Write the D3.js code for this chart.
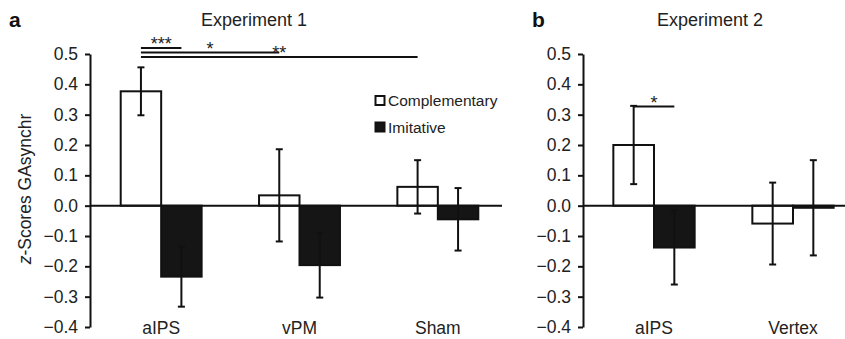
<!DOCTYPE html>
<html>
<head>
<meta charset="utf-8">
<script src="https://cdn.jsdelivr.net/npm/d3@7"></script>
<style>
  body { margin: 0; background: #fff; }
  svg { font-family: "Liberation Sans", Arial, sans-serif; }
</style>
</head>
<body>
<div id="chart"></div>
<script>
// data
const groups = ["comp", "imit"];
const exp1Sites = ["aIPS", "vPM", "Sham"];
const exp1Comp = [0.377, 0.034, 0.062];
const exp1CompErr = [0.079, 0.152, 0.088];
const exp1Imit = [-0.234, -0.196, -0.045];
const exp1ImitErr = [0.099, 0.107, 0.103];

const exp2Sites = ["aIPS", "Vertex"];
const exp2Comp = [0.2, -0.059];
const exp2CompErr = [0.129, 0.135];
const exp2Imit = [-0.138, -0.007];
const exp2ImitErr = [0.122, 0.157];

const yTicks = [0.5, 0.4, 0.3, 0.2, 0.1, 0.0, -0.1, -0.2, -0.3, -0.4];
const legendLabels = ["Complementary", "Imitative"];

// significance brackets: [fromSite, fromGroup, toSite, toGroup, label]
const exp1Sig = [
  ["aIPS", "comp", "aIPS", "imit", "***"],
  ["aIPS", "comp", "vPM", "comp", "*"],
  ["aIPS", "comp", "Sham", "comp", "**"]
];
const exp2Sig = [
  ["aIPS", "comp", "aIPS", "imit", "*"]
];

const width = 845, height = 339;
const svg = d3.select("#chart").append("svg")
  .attr("width", width)
  .attr("height", height);

const fillFor = { comp: "#fff", imit: "#151515" };

function drawPanel(opt) {
  const y = d3.scaleLinear().domain([-0.4, 0.5]).range([327, 54]);
  const x0 = d3.scaleBand().domain(opt.sites).range(opt.xRange).paddingInner(0.415).paddingOuter(0.2075);
  const x1 = d3.scaleBand().domain(groups).range([0, x0.bandwidth()]);

  const g = svg.append("g");

  // axis
  const axis = d3.axisLeft(y).tickValues(yTicks).tickSize(5).tickSizeOuter(0)
    .tickFormat(d => d3.format(".1f")(d).replace("-", "\u2212"));
  const ax = g.append("g").attr("transform", "translate(" + opt.axisX + ",0)").call(axis);
  ax.select(".domain").attr("stroke", "#111").attr("stroke-width", 2);
  ax.selectAll(".tick line").attr("stroke", "#111").attr("stroke-width", 2);
  ax.selectAll(".tick text").attr("font-size", 17.5).attr("fill", "#222").attr("x", -12);

  // bars
  const rows = [];
  opt.sites.forEach((s, i) => {
    rows.push({ site: s, grp: "comp", v: opt.comp[i], e: opt.compErr[i] });
    rows.push({ site: s, grp: "imit", v: opt.imit[i], e: opt.imitErr[i] });
  });

  g.selectAll("rect.bar").data(rows).join("rect")
    .attr("class", "bar")
    .attr("x", d => x0(d.site) + x1(d.grp))
    .attr("width", x1.bandwidth())
    .attr("y", d => y(Math.max(0, d.v)))
    .attr("height", d => Math.abs(y(d.v) - y(0)))
    .attr("fill", d => fillFor[d.grp])
    .attr("stroke", "#111")
    .attr("stroke-width", 2);

  // zero line
  g.append("line")
    .attr("x1", opt.axisX).attr("x2", opt.zeroEnd)
    .attr("y1", y(0)).attr("y2", y(0))
    .attr("stroke", "#111").attr("stroke-width", 2);

  // error bars
  const cx = d => x0(d.site) + x1(d.grp) + x1.bandwidth() / 2;
  const eb = g.selectAll("g.err").data(rows).join("g").attr("class", "err")
    .attr("stroke", "#111").attr("stroke-width", 2);
  eb.append("line").attr("x1", cx).attr("x2", cx)
    .attr("y1", d => y(d.v + d.e)).attr("y2", d => y(d.v - d.e));
  eb.append("line").attr("x1", d => cx(d) - 3.5).attr("x2", d => cx(d) + 3.5)
    .attr("y1", d => y(d.v + d.e)).attr("y2", d => y(d.v + d.e));
  eb.append("line").attr("x1", d => cx(d) - 3.5).attr("x2", d => cx(d) + 3.5)
    .attr("y1", d => y(d.v - d.e)).attr("y2", d => y(d.v - d.e));

  // category labels
  g.selectAll("text.cat").data(opt.sites).join("text")
    .attr("class", "cat")
    .attr("x", d => x0(d) + x0.bandwidth() / 2)
    .attr("y", 334)
    .attr("text-anchor", "middle")
    .attr("font-size", 17.5)
    .attr("fill", "#222")
    .text(d => d);

  // significance lines
  const barCenter = (s, gr) => x0(s) + x1(gr) + x1.bandwidth() / 2;
  opt.sig.forEach((d, i) => {
    const xa = barCenter(d[0], d[1]), xb = barCenter(d[2], d[3]);
    const ly = opt.sigY[i];
    g.append("line").attr("x1", xa).attr("x2", xb).attr("y1", ly).attr("y2", ly)
      .attr("stroke", "#111").attr("stroke-width", 1.8);
    g.append("text").attr("x", (xa + xb) / 2).attr("y", ly + 2)
      .attr("text-anchor", "middle").attr("font-size", 18).attr("fill", "#222")
      .text(d[4]);
  });

  // title and panel letter
  svg.append("text").attr("x", opt.titleX).attr("y", 26)
    .attr("text-anchor", "middle").attr("font-size", 18).attr("fill", "#222")
    .text(opt.title);
  svg.append("text").attr("x", opt.letterX).attr("y", 27)
    .attr("font-size", 21).attr("font-weight", "bold").attr("fill", "#111")
    .text(opt.letter);

  return { x0, x1, y };
}

drawPanel({
  sites: exp1Sites, comp: exp1Comp, compErr: exp1CompErr, imit: exp1Imit, imitErr: exp1ImitErr,
  xRange: [92, 507], axisX: 90, zeroEnd: 502,
  sig: exp1Sig, sigY: [48, 52.5, 57],
  title: "Experiment 1", titleX: 254, letter: "a", letterX: 9
});

drawPanel({
  sites: exp2Sites, comp: exp2Comp, compErr: exp2CompErr, imit: exp2Imit, imitErr: exp2ImitErr,
  xRange: [584.5, 862.5], axisX: 583, zeroEnd: 845,
  sig: exp2Sig, sigY: [106.5],
  title: "Experiment 2", titleX: 710, letter: "b", letterX: 532
});

// y axis label
const yl = svg.append("text")
  .attr("transform", "translate(31,189) rotate(-90)")
  .attr("text-anchor", "middle")
  .attr("font-size", 17.5)
  .attr("fill", "#222");
yl.append("tspan").attr("font-style", "italic").text("z");
yl.append("tspan").text("-Scores GAsynchr");

// legend
const legend = svg.append("g");
legendLabels.forEach((lab, i) => {
  const ly = 106 + i * 26.5;
  legend.append("rect").attr("x", 375.5).attr("y", ly - 10).attr("width", 9).attr("height", 9)
    .attr("fill", fillFor[groups[i]]).attr("stroke", "#111").attr("stroke-width", 2);
  legend.append("text").attr("x", 388).attr("y", ly)
    .attr("font-size", 15.5).attr("fill", "#222").text(lab);
});
</script>
</body>
</html>
